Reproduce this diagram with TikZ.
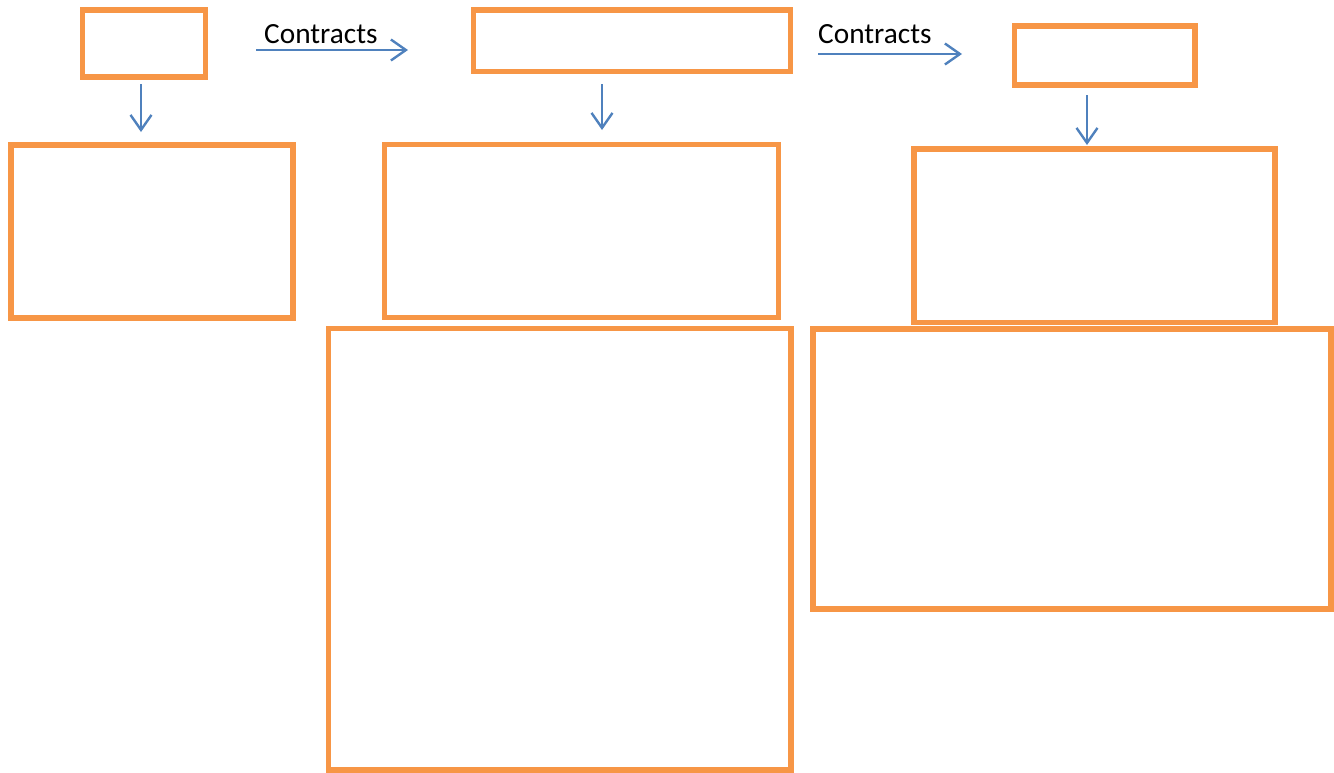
\documentclass[tikz,border=0pt]{standalone}
\usepackage{fontspec}
\setmainfont{Carlito}
\usetikzlibrary{arrows.meta}
\definecolor{boxorange}{RGB}{247,150,70}
\definecolor{arrowblue}{RGB}{79,129,189}
\tikzset{
  obox/.style={draw=boxorange, line width=5.3pt, inner sep=0pt, outer sep=0pt},
  flow/.style={draw=arrowblue, line width=2.4pt, -{Straight Barb[length=15pt,width=21pt,line width=2.4pt]}},
  lbl/.style={inner sep=0pt, anchor=base west, font=\fontsize{29.3}{35}\selectfont}
}
\begin{document}
\begin{tikzpicture}[x=1pt,y=-1pt]
\useasboundingbox (0,0) rectangle (1334,772);
% boxes
\node[obox, minimum width=123pt, minimum height=67pt] (A) at (144,43.5) {};
\node[obox, minimum width=317pt, minimum height=61.5pt] (B) at (632,40.75) {};
\node[obox, minimum width=180.5pt, minimum height=59pt] (C) at (1104.75,55.5) {};
\node[obox, minimum width=282pt, minimum height=173pt] (D) at (152,231.5) {};
\node[obox, minimum width=394pt, minimum height=173pt] (E) at (581.5,231) {};
\node[obox, minimum width=361pt, minimum height=173.5pt] (F) at (1094.5,235.75) {};
\node[obox, minimum width=462.5pt, minimum height=441.5pt] (G) at (559.75,549.25) {};
\node[obox, minimum width=518pt, minimum height=280pt] (H) at (1072,469) {};
% arrow end points
\coordinate (a1) at (141,84);
\coordinate (a2) at (141,132);
\coordinate (b1) at (602,84);
\coordinate (b2) at (602,130);
\coordinate (c1) at (1087,95);
\coordinate (c2) at (1087,145);
\coordinate (h1s) at (256,50);
\coordinate (h1e) at (408,50);
\coordinate (h2s) at (818,54);
\coordinate (h2e) at (962,54);
% arrows
\draw[flow] (a1) -- (a2);
\draw[flow] (b1) -- (b2);
\draw[flow] (c1) -- (c2);
\draw[flow] (h1s) -- (h1e);
\draw[flow] (h2s) -- (h2e);
% labels
\node[lbl] (t1) at (264,43) {Contracts};
\node[lbl] (t2) at (818,43) {Contracts};
\end{tikzpicture}
\end{document}
